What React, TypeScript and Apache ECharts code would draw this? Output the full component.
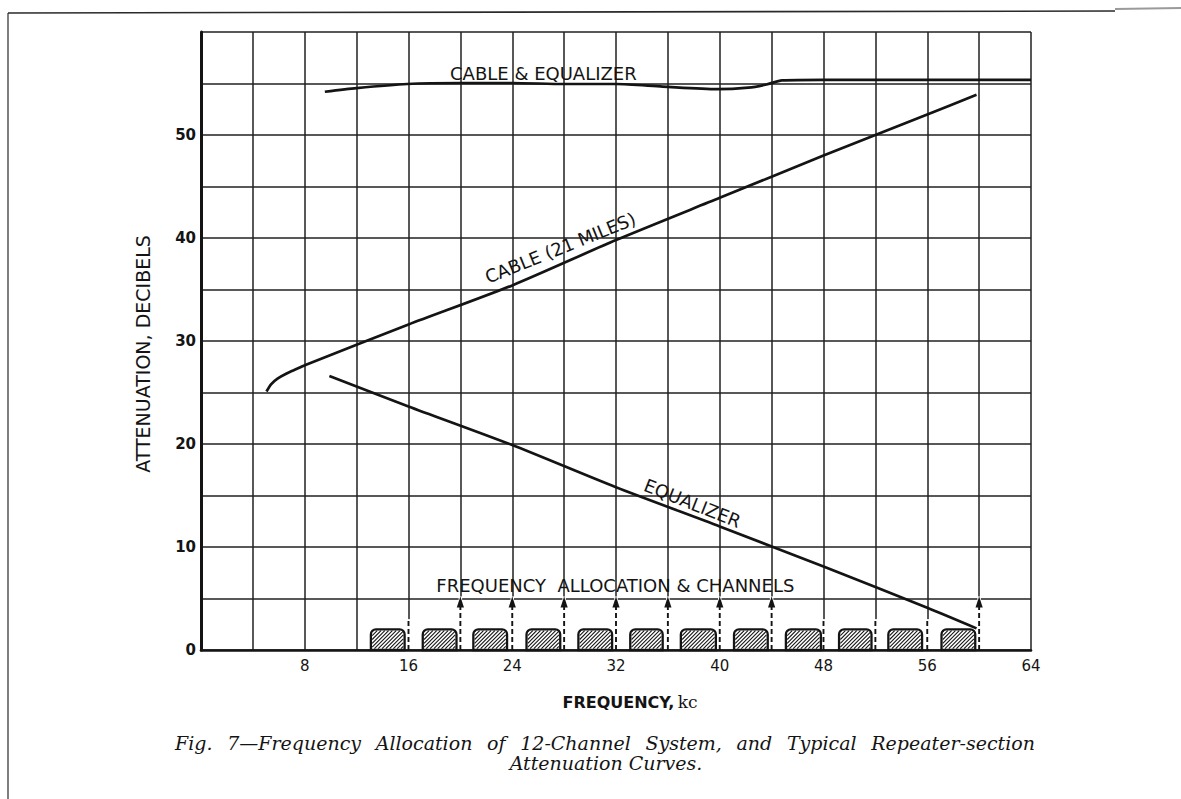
import React, { useEffect, useRef } from "react";
import * as echarts from "echarts";

// ---------------- DATA ----------------
// Frequency (kc) vs attenuation (dB)
const cableAndEqualizer: number[][] = [
  [9.55, 54.2], [12, 54.55], [15.9, 54.95], [20, 55.05], [24, 55.05], [28, 54.95],
  [32, 54.95], [35.6, 54.7], [39.8, 54.45], [42.2, 54.6], [43.6, 54.9], [44.8, 55.3],
  [48, 55.35], [56, 55.35], [64, 55.35],
];
const cable21Miles: number[][] = [
  [5.05, 25.1], [5.4, 25.8], [5.9, 26.35], [6.6, 26.85], [7.4, 27.3], [8.1, 27.7],
  [16, 31.6], [24, 35.4], [32, 39.8], [40, 43.9], [48, 48.0], [56, 52.0], [59.8, 53.9],
];
const equalizer: number[][] = [
  [9.9, 26.6], [16, 23.65], [24, 19.9], [32, 15.8], [40, 12.0], [48, 8.1], [56, 4.1], [59.8, 2.1],
];
// 12 channel bands (kc) and their drawn level (dB)
const channelLow = [13.1, 17.1, 21.0, 25.1, 29.1, 33.1, 37.0, 41.1, 45.1, 49.2, 53.0, 57.1];
const channelHigh = [15.7, 19.7, 23.6, 27.7, 31.7, 35.6, 39.7, 43.7, 47.8, 51.7, 55.6, 59.7];
const channelLevel = 2.0;
// carrier markers (kc)
const arrowCarriers = [20, 24, 28, 32, 36, 40, 44, 60];
const plainCarriers = [16, 48, 52, 56];
const arrowTop = 5.2;
const plainTop = 3.0;
// axis ticks
const freqLabels = [8, 16, 24, 32, 40, 48, 56, 64];
const dbLabels = [0, 10, 20, 30, 40, 50];

// ---------------- TEXT ----------------
const yName = "ATTENUATION, DECIBELS";
const captionLine1 =
  "Fig. 7\u2014Frequency Allocation of 12-Channel System, and Typical Repeater-section";
const captionLine2 = "Attenuation Curves.";

const INK = "#141414";
const SANS = '"DejaVu Sans", sans-serif';
const SERIF = '"DejaVu Serif", serif';

export default function App() {
  const ref = useRef<HTMLDivElement>(null);

  useEffect(() => {
    const el = ref.current;
    if (!el) return;
    const chart = echarts.init(el, null, { renderer: "svg" });

    const channelData = channelLow.map((lo, i) => [lo, channelHigh[i], channelLevel]);
    const carrierData = [
      ...arrowCarriers.map((f) => [f, arrowTop, 1]),
      ...plainCarriers.map((f) => [f, plainTop, 0]),
    ];

    const lineSeries = (name: string, data: number[][]) => ({
      name,
      type: "line",
      data,
      showSymbol: false,
      smooth: 0.25,
      z: 5,
      lineStyle: { color: INK, width: 2.7 },
    });

    chart.setOption({
      animation: false,
      backgroundColor: "#ffffff",
      grid: { left: 201, right: 150, top: 32, bottom: 149 },
      xAxis: {
        type: "value",
        min: 0,
        max: 64,
        interval: 4,
        axisLine: { show: true, onZero: false, lineStyle: { color: INK, width: 2.6 } },
        axisTick: { show: false },
        axisLabel: {
          formatter: (v: number) => (freqLabels.includes(v) ? String(v) : ""),
          color: INK,
          fontFamily: SANS,
          fontSize: 15,
          margin: 8,
        },
        splitLine: { show: true, lineStyle: { color: "#202020", width: 1.5 } },
      },
      yAxis: {
        type: "value",
        min: 0,
        max: 60,
        interval: 5,
        axisLine: { show: true, lineStyle: { color: INK, width: 3 } },
        axisTick: { show: false },
        axisLabel: {
          formatter: (v: number) => (dbLabels.includes(v) ? String(v) : ""),
          color: INK,
          fontFamily: SANS,
          fontWeight: "bold",
          fontSize: 15,
          margin: 5,
        },
        splitLine: { show: true, lineStyle: { color: "#202020", width: 1.5 } },
      },
      series: [
        {
          name: "Carriers",
          type: "custom",
          data: carrierData,
          encode: { x: 0, y: 1 },
          z: 3,
          renderItem: (params: any, api: any) => {
            const f = api.value(0);
            const top = api.value(1);
            const arrow = api.value(2) === 1;
            const p0 = api.coord([f, 0]);
            const p1 = api.coord([f, top]);
            const head = 11;
            const children: any[] = [
              {
                type: "line",
                shape: { x1: p0[0], y1: p0[1] - 1, x2: p1[0], y2: p1[1] },
                style: { stroke: "#ffffff", lineWidth: 3.5 },
              },
              {
                type: "line",
                shape: { x1: p0[0], y1: p0[1], x2: p1[0], y2: p1[1] + (arrow ? head - 2 : 0) },
                style: { stroke: INK, lineWidth: 1.9, lineDash: [5, 3] },
              },
            ];
            if (arrow) {
              children.push({
                type: "polygon",
                shape: {
                  points: [
                    [p1[0] - 3.6, p1[1] + head],
                    [p1[0], p1[1]],
                    [p1[0] + 3.6, p1[1] + head],
                  ],
                },
                style: { fill: INK },
              });
            }
            return { type: "group", children };
          },
        },
        {
          name: "Channels",
          type: "custom",
          data: channelData,
          encode: { x: [0, 1], y: 2 },
          z: 4,
          renderItem: (params: any, api: any) => {
            const a = api.coord([api.value(0), 0]);
            const b = api.coord([api.value(1), api.value(2)]);
            const x = a[0];
            const y = b[1];
            const w = b[0] - a[0];
            const h = a[1] - b[1];
            const children: any[] = [
              {
                type: "rect",
                shape: { x, y, width: w, height: h, r: [5, 5, 0, 0] },
                style: { fill: "#ffffff", stroke: INK, lineWidth: 2.3 },
              },
            ];
            const step = 3.8;
            for (let t = -h; t < w; t += step) {
              const s0 = Math.max(1.3, -t + 1.3);
              const s1 = Math.min(h - 1.3, w - t - 1.3);
              if (s1 > s0) {
                children.push({
                  type: "line",
                  shape: { x1: x + t + s0, y1: y + h - s0, x2: x + t + s1, y2: y + h - s1 },
                  style: { stroke: INK, lineWidth: 1.1 },
                });
              }
            }
            return { type: "group", children };
          },
        },
        lineSeries("Cable & Equalizer", cableAndEqualizer),
        lineSeries("Cable (21 Miles)", cable21Miles),
        lineSeries("Equalizer", equalizer),
      ],
    });

    // ---------- annotations (placed via the chart's own scales) ----------
    const px = (p: number[]) => chart.convertToPixel({ gridIndex: 0 }, p) as number[];
    const annotations = [
      { text: "CABLE & EQUALIZER", at: [26.4, 56.0], rot: 0, size: 18 },
      { text: "CABLE (21 MILES)", at: [27.7, 39.05], rot: 0.383, size: 18 },
      { text: "EQUALIZER", at: [37.9, 14.25], rot: -0.378, size: 18 },
      { text: "FREQUENCY  ALLOCATION & CHANNELS", at: [31.95, 6.3], rot: 0, size: 18 },
    ];
    const graphics: any[] = annotations.map((a) => {
      const p = px(a.at);
      return {
        type: "text",
        x: p[0],
        y: p[1],
        rotation: a.rot,
        z: 10,
        style: {
          text: a.text,
          fontFamily: SANS,
          fontSize: a.size,
          fill: INK,
          align: "center",
          verticalAlign: "middle",
        },
      };
    });

    // axis names
    graphics.push({
      type: "text",
      x: 143,
      y: 354,
      rotation: Math.PI / 2,
      style: {
        text: yName,
        fontFamily: SANS,
        fontSize: 19,
        fill: INK,
        align: "center",
        verticalAlign: "middle",
      },
    });
    graphics.push({
      type: "text",
      x: 630,
      y: 702,
      style: {
        text: "{a|FREQUENCY,} {b|kc}",
        align: "center",
        verticalAlign: "middle",
        rich: {
          a: { fontFamily: SANS, fontSize: 16, fill: INK, fontWeight: "bold" },
          b: { fontFamily: SERIF, fontSize: 17, fill: INK },
        },
      },
    });

    // caption, line 1 justified between 175 and 1035
    const captionFont = { fontFamily: SERIF, fontStyle: "italic", fontSize: 19 };
    const ctx = document.createElement("canvas").getContext("2d");
    const words = captionLine1.split(" ");
    let widths = words.map((w) => w.length * 9.5);
    if (ctx) {
      ctx.font = 'italic 19px "DejaVu Serif"';
      widths = words.map((w) => ctx.measureText(w).width);
    }
    const left = 175;
    const right = 1035;
    const total = widths.reduce((s, v) => s + v, 0);
    const gap = (right - left - total) / (words.length - 1);
    let cx = left;
    words.forEach((w, i) => {
      graphics.push({
        type: "text",
        x: cx,
        y: 743,
        style: { text: w, ...captionFont, fill: INK, align: "left", verticalAlign: "middle" },
      });
      cx += widths[i] + gap;
    });
    graphics.push({
      type: "text",
      x: 606,
      y: 763,
      style: { text: captionLine2, ...captionFont, fill: INK, align: "center", verticalAlign: "middle" },
    });

    // page frame remnants
    graphics.push(
      { type: "line", shape: { x1: 8, y1: 13, x2: 1115, y2: 11 }, style: { stroke: "#2a2a2a", lineWidth: 1.6 } },
      { type: "line", shape: { x1: 1115, y1: 9, x2: 1181, y2: 8 }, style: { stroke: "#9a9a9a", lineWidth: 2 } },
      { type: "line", shape: { x1: 8, y1: 13, x2: 8, y2: 799 }, style: { stroke: "#2a2a2a", lineWidth: 1.2 } }
    );

    chart.setOption({ graphic: graphics });

    return () => chart.dispose();
  }, []);

  return (
    <div
      ref={ref}
      style={{ position: "absolute", left: 0, top: 0, width: 1181, height: 799, background: "#fff" }}
    />
  );
}
